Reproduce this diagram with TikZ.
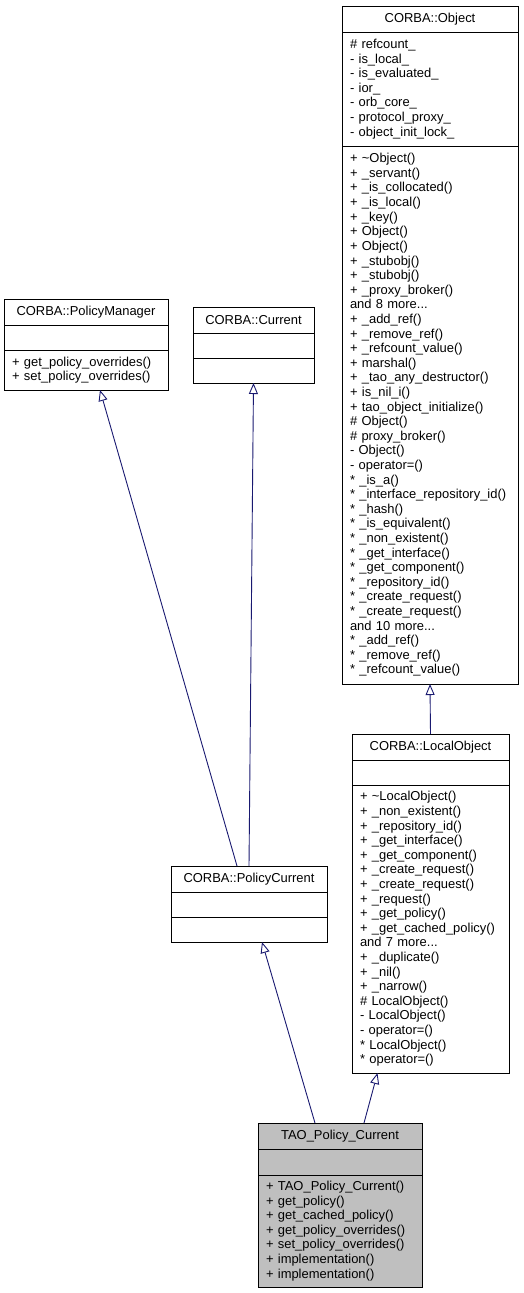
\documentclass[tikz,border=0pt]{standalone}
\usepackage{fontspec}
\setmainfont{Liberation Sans}
\usetikzlibrary{positioning,arrows.meta}

\definecolor{edgeblue}{HTML}{191970}
\definecolor{taogrey}{HTML}{BFBFBF}

\begin{document}
\begin{tikzpicture}[x=1bp, y=-1bp, node distance=0pt,
	box/.style = {draw, line width=0.8bp, inner xsep=8bp, inner ysep=2bp, outer sep=0pt, text width=#1, font=\fontsize{13}{14.66}\selectfont},
	head/.style = {box=#1, align=center, minimum height=26bp},
	part/.style = {box=#1, align=left, minimum height=25bp},
	inh/.style = {draw=edgeblue, line width=0.9bp, -{Triangle[length=11bp, width=9bp, fill=white]}}]
	\useasboundingbox (0,0) rectangle (524,1293);

	%% Nodes
	\node[head=160bp, anchor=north west] (obj) at (342,6) {CORBA::Object};
	\node[part=160bp, minimum height=114bp][below=of obj] (objA) {\# refcount\_\\- is\_local\_\\- is\_evaluated\_\\- ior\_\\- orb\_core\_\\- protocol\_proxy\_\\- object\_init\_lock\_};
	\node[part=160bp, minimum height=538bp][below=of objA] (objM) {+ \textasciitilde Object()\\+ \_servant()\\+ \_is\_collocated()\\+ \_is\_local()\\+ \_key()\\+ Object()\\+ Object()\\+ \_stubobj()\\+ \_stubobj()\\+ \_proxy\_broker()\\and 8 more...\\+ \_add\_ref()\\+ \_remove\_ref()\\+ \_refcount\_value()\\+ marshal()\\+ \_tao\_any\_destructor()\\+ is\_nil\_i()\\+ tao\_object\_initialize()\\\# Object()\\\# proxy\_broker()\\- Object()\\- operator=()\\{}* \_is\_a()\\{}* \_interface\_repository\_id()\\{}* \_hash()\\{}* \_is\_equivalent()\\{}* \_non\_existent()\\{}* \_get\_interface()\\{}* \_get\_component()\\{}* \_repository\_id()\\{}* \_create\_request()\\{}* \_create\_request()\\and 10 more...\\{}* \_add\_ref()\\{}* \_remove\_ref()\\{}* \_refcount\_value()};

	\node[head=148bp, anchor=north west] (pm) at (4,299) {CORBA::PolicyManager};
	\node[part=148bp][below=of pm] (pmA) {};
	\node[part=148bp, minimum height=40bp][below=of pmA] (pmM) {+ get\_policy\_overrides()\\+ set\_policy\_overrides()};

	\node[head=105bp, anchor=north west] (cur) at (193,307) {CORBA::Current};
	\node[part=105bp][below=of cur] (curA) {};
	\node[part=105bp][below=of curA] (curM) {};

	\node[head=141bp, anchor=north west] (lo) at (352,734) {CORBA::LocalObject};
	\node[part=141bp][below=of lo] (loA) {};
	\node[part=141bp, minimum height=288bp][below=of loA] (loM) {+ \textasciitilde LocalObject()\\+ \_non\_existent()\\+ \_repository\_id()\\+ \_get\_interface()\\+ \_get\_component()\\+ \_create\_request()\\+ \_create\_request()\\+ \_request()\\+ \_get\_policy()\\+ \_get\_cached\_policy()\\and 7 more...\\+ \_duplicate()\\+ \_nil()\\+ \_narrow()\\\# LocalObject()\\- LocalObject()\\- operator=()\\{}* LocalObject()\\{}* operator=()};

	\node[head=140bp, anchor=north west] (pc) at (171,866) {CORBA::PolicyCurrent};
	\node[part=140bp][below=of pc] (pcA) {};
	\node[part=140bp][below=of pcA] (pcM) {};

	\node[head=148bp, fill=taogrey, anchor=north west] (tao) at (258,1123) {TAO\_Policy\_Current};
	\node[part=148bp, fill=taogrey, minimum height=26bp][below=of tao] (taoA) {};
	\node[part=148bp, fill=taogrey, minimum height=112bp][below=of taoA] (taoM) {+ TAO\_Policy\_Current()\\+ get\_policy()\\+ get\_cached\_policy()\\+ get\_policy\_overrides()\\+ set\_policy\_overrides()\\+ implementation()\\+ implementation()};

	%% Edges
	\draw[inh] (lo.north) -- (objM.south);
	\draw[inh] ([xshift=-12bp]pc.north) -- ([xshift=14bp]pmM.south);
	\draw[inh] (pc.north) -- (curM.south);
	\draw[inh] ([xshift=-25bp]tao.north) -- ([xshift=13bp]pcM.south);
	\draw[inh] ([xshift=24bp]tao.north) -- ([xshift=-53bp]loM.south);
\end{tikzpicture}
\end{document}
